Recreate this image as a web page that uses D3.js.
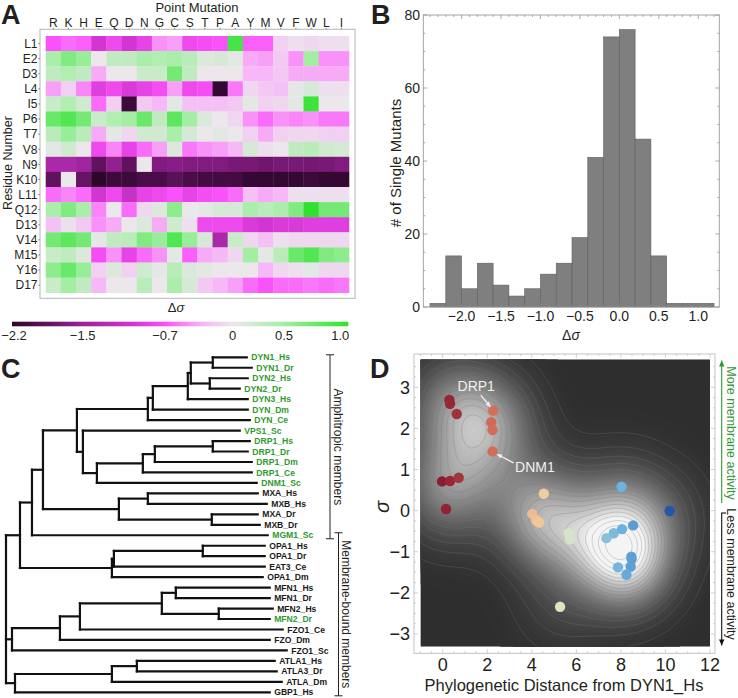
<!DOCTYPE html>
<html><head><meta charset="utf-8">
<script src="https://cdn.jsdelivr.net/npm/d3@7/dist/d3.min.js"></script>
<style>
html,body{margin:0;padding:0;background:#fff;}
svg{display:block;}
text{font-family:"Liberation Sans",Arial,sans-serif;fill:#231f20;}
</style></head><body>
<svg id="fig" width="738" height="698"></svg>
<script>
// ---------------- DATA ----------------
const mutations = ["R","K","H","E","Q","D","N","G","C","S","T","P","A","Y","M","V","F","W","L","I"];
const residues = ["L1","E2","D3","L4","I5","P6","T7","V8","N9","K10","L11","Q12","D13","V14","M15","Y16","D17"];
const dSigma = [
 [-0.7,-0.6,-0.65,-1.0,-0.8,-1.0,-0.85,-0.45,-0.4,-0.8,-0.75,-0.7,0.9,-0.65,-0.65,-0.15,-0.05,-0.1,-0.05,-0.05],
 [0.45,0.65,0.55,0.0,0.3,0.3,0.45,0.4,0.45,0.35,0.1,0.15,0.05,-0.35,-0.4,-0.2,-0.45,0.5,-0.45,-0.45],
 [0.3,0.4,0.3,-0.35,0.0,0.0,0.25,0.25,0.7,0.3,0.0,0.0,0.0,-0.3,-0.3,-0.2,-0.35,-0.35,-0.35,-0.35],
 [-0.4,-0.15,-0.5,-0.9,-0.8,-0.95,-0.85,-0.75,-0.4,-0.8,-0.75,-2.15,-0.55,-0.1,-0.2,-0.25,0.05,0.15,-0.05,-0.05],
 [0.25,0.4,0.2,-0.6,-0.15,-2.1,-0.2,-0.3,0.05,-0.25,-0.25,-0.25,-0.2,0.05,-0.15,-0.1,0.05,0.95,0.0,0.0],
 [0.75,0.85,0.7,0.25,0.4,0.5,0.75,0.3,0.8,0.5,0.1,0.0,-0.1,-0.45,-0.6,-0.45,-0.5,-0.45,-0.55,-0.55],
 [0.35,0.55,0.35,-0.35,0.05,-0.1,0.2,0.2,0.45,0.15,0.0,0.05,0.0,-0.15,-0.35,-0.15,-0.1,-0.1,-0.15,-0.15],
 [0.05,0.2,0.0,-0.8,-0.5,-0.85,-0.6,-0.4,0.1,-0.55,-0.45,-0.4,-0.3,0.15,-0.05,0.0,0.3,0.35,0.2,0.15],
 [-1.35,-1.35,-1.45,-1.85,-1.55,-1.85,0.0,-1.65,-1.6,-1.65,-1.65,-1.65,-1.7,-1.7,-1.75,-1.7,-1.7,-1.72,-1.7,-1.65],
 [-1.85,0.0,-1.8,-2.2,-2.1,-2.1,-2.0,-2.0,-1.9,-2.0,-2.05,-2.05,-2.05,-2.15,-2.15,-2.15,-2.15,-2.1,-2.15,-2.15],
 [-0.6,-0.5,-0.6,-1.0,-0.8,-1.1,-0.85,-0.8,-0.7,-0.85,-0.75,-0.7,-0.6,-0.25,-0.35,-0.3,-0.05,-0.05,-0.05,-0.05],
 [0.45,0.65,0.45,-0.5,0.0,-0.6,-0.1,0.1,0.6,0.0,0.05,0.15,0.15,0.45,0.35,0.45,0.65,1.0,0.7,0.7],
 [-0.25,-0.05,-0.2,-0.45,-0.35,0.0,0.1,-0.35,0.2,-0.05,-0.8,-0.8,-0.8,-0.95,-1.0,-0.95,-0.95,-0.9,-0.9,-0.9],
 [0.7,0.8,0.7,0.05,0.3,0.35,0.65,0.55,0.85,0.55,0.15,-1.35,0.25,-0.1,-0.25,-0.05,-0.1,-0.1,-0.1,-0.1],
 [0.25,0.3,0.1,-0.75,-0.45,-0.85,-0.6,-0.45,0.05,-0.65,-0.35,-0.3,-0.1,0.5,0.05,0.35,0.75,0.85,0.65,0.6],
 [0.6,0.75,0.55,-0.15,0.1,-0.15,0.2,0.05,0.35,0.1,0.05,0.0,0.0,0.0,-0.3,-0.1,-0.05,0.05,-0.1,-0.1],
 [0.25,0.5,0.3,-0.3,0.0,0.0,0.35,0.0,0.45,0.15,-0.2,-0.3,-0.4,-0.6,-0.7,-0.6,-0.6,-0.55,-0.6,-0.55]
];
const colorStops = [-2.2,-1.8,-1.5,-1.0,-0.7,-0.3,0,0.5,1.0];
const colorbarTicks = [-2.2,-1.5,-0.7,0,0.5,1.0];
const colorbarLabels = ["\u22122.2","\u22121.5","\u22120.7","0","0.5","1.0"];

const histBinStarts = [-2.4,-2.2,-2.0,-1.8,-1.6,-1.4,-1.2,-1.0,-0.8,-0.6,-0.4,-0.2,0.0,0.2,0.4,0.6,0.8,1.0];
const histCounts    = [1,14,5,12,6,3,5,9,12,19,41,74,76,46,14,1,1,1];
const histBinWidth = 0.2;
const histXTicks = [-2,-1.5,-1,-0.5,0,0.5,1];
const histYTicks = [0,20,40,60,80];

// phylogenetic tree: node = cumulative distance from root, leaves named
const L = (name, d) => ({name, d});
const N = (d, children) => ({d, children});
const phyloTree = N(0, [
  N(0.14, [
    N(0.26, [
      N(0.37, [
        N(0.71, [
          N(1.42, [
            N(1.47, [
              N(1.82, [
                N(1.85, [
                  N(2.07, [L("DYN1_Hs",2.41), L("DYN1_Dr",2.46)]),
                  N(2.04, [L("DYN2_Hs",2.42), L("DYN2_Dr",2.34)])
                ]),
                L("DYN3_Hs",2.42)
              ]),
              L("DYN_Dm",2.42)
            ]),
            L("DYN_Ce",2.44)
          ]),
          N(0.77, [
            L("VPS1_Sc",2.34),
            N(0.91, [
              N(1.37, [
                N(1.49, [
                  N(2.07, [L("DRP1_Hs",2.44), L("DRP1_Dr",2.42)]),
                  L("DRP1_Dm",2.46)
                ]),
                L("DRP1_Ce",2.46)
              ]),
              L("DNM1_Sc",2.51)
            ])
          ])
        ]),
        N(1.13, [
          N(1.42, [L("MXA_Hs",2.52), L("MXB_Hs",2.61)]),
          N(2.06, [L("MXA_Dr",2.52), L("MXB_Dr",2.54)])
        ])
      ]),
      L("MGM1_Sc",2.62)
    ]),
    N(1.06, [
      N(1.08, [
        N(1.97, [L("OPA1_Hs",2.59), L("OPA1_Dr",2.59)]),
        L("EAT3_Ce",2.59)
      ]),
      L("OPA1_Dm",2.57)
    ])
  ]),
  N(0.06, [
    N(0.54, [
      N(0.74, [
        N(1.56, [
          N(1.70, [L("MFN1_Hs",2.64), L("MFN1_Dr",2.64)]),
          N(2.13, [L("MFN2_Hs",2.67), L("MFN2_Dr",2.64)])
        ]),
        L("FZO1_Ce",2.77)
      ]),
      L("FZO_Dm",2.64)
    ]),
    L("FZO1_Sc",2.81)
  ]),
  N(0.09, [
    N(1.06, [
      N(1.31, [L("ATLA1_Hs",2.69), L("ATLA3_Dr",2.71)]),
      L("ATLA_Dm",2.76)
    ]),
    L("GBP1_Hs",2.64)
  ])
]);
const amphitropic = ["DYN1_Hs","DYN1_Dr","DYN2_Hs","DYN2_Dr","DYN3_Hs","DYN_Dm","DYN_Ce","VPS1_Sc","DRP1_Hs","DRP1_Dr","DRP1_Dm","DRP1_Ce","DNM1_Sc","MGM1_Sc","MFN2_Dr"];
const groupAmphi = ["DYN1_Hs","MGM1_Sc"];
const groupMembrane = ["MGM1_Sc","GBP1_Hs"];

const phyloDistance = [0.30,0.33,0.63,-0.03,0.33,0.72,0.15, 2.27,2.18,2.24,2.24, 4.54,4.02,4.21,4.33, 5.66,5.71,5.27, 8.03,7.35,7.68,8.05,8.55,8.47,8.48,7.87,8.44,8.25, 10.19];
const sigmaValues   = [2.69,2.60,2.35,0.71,0.72,0.80,0.04, 2.43,2.15,1.96,1.44, 0.41,-0.08,-0.24,-0.29, -0.55,-0.70,-2.34, 0.58,-0.67,-0.55,-0.45,-0.36,-1.12,-1.18,-1.38,-1.36,-1.56, -0.01];
const dXTicks = [0,2,4,6,8,10,12];
const dYTicks = [-3,-2,-1,0,1,2,3];

// ---------------- DRAW ----------------
const svg = d3.select("#fig");
const defs = svg.append("defs");
const MINUS = v => (v<0?"\u2212":"") + Math.abs(v);

function arrow(g, x1, y1, x2, y2, color, w, head){
  g.append("line").attr("x1",x1).attr("y1",y1).attr("x2",x2).attr("y2",y2)
   .attr("stroke",color).attr("stroke-width",w);
  const a = Math.atan2(y2-y1, x2-x1), h = head, s = head*0.45;
  const p = [[x2,y2],[x2-h*Math.cos(a)+s*Math.sin(a), y2-h*Math.sin(a)-s*Math.cos(a)],
             [x2-h*Math.cos(a)-s*Math.sin(a), y2-h*Math.sin(a)+s*Math.cos(a)]];
  g.append("path").attr("d","M"+p.join("L")+"Z").attr("fill",color);
}

// panel letters
[["A",1,24],["B",371,24],["C",1,378],["D",370,378]].forEach(([t,x,y])=>{
  svg.append("text").attr("x",x).attr("y",y).text(t)
    .style("font-size","27px").style("font-weight","bold");
});

// ===== Panel A =====
{
  const g = svg.append("g");
  const x = d3.scaleBand(mutations, [45.7, 349]);
  const y = d3.scaleBand(residues, [36, 292.7]);
  const color = d3.scaleLinear(colorStops,
      ["#2e062c","#681466","#9a2298","#d236d2","#fa52fa","#f7b8f7","#ebe7eb","#a4eea4","#2fe22f"])
      .interpolate(d3.interpolateRgb).clamp(true);
  g.append("rect").attr("x",40).attr("y",29.3).attr("width",315).attr("height",269)
    .attr("fill","#fff").attr("stroke","#b4b4b4").attr("stroke-width",1);
  residues.forEach((r,i)=>{
    g.selectAll(null).data(dSigma[i]).join("rect")
      .attr("x",(d,j)=>x(mutations[j])).attr("y",y(r))
      .attr("width",x.bandwidth()+0.3).attr("height",y.bandwidth()+0.3)
      .attr("fill",d=>color(d));
  });
  g.selectAll(null).data(mutations).join("text")
    .attr("x",d=>x(d)+x.bandwidth()/2).attr("y",27)
    .attr("text-anchor","middle").style("font-size","12px").text(d=>d);
  g.selectAll(null).data(mutations).join("line")
    .attr("x1",d=>x(d)+x.bandwidth()/2).attr("x2",d=>x(d)+x.bandwidth()/2)
    .attr("y1",27.8).attr("y2",29.3).attr("stroke","#888");
  g.selectAll(null).data(residues).join("text")
    .attr("x",37.5).attr("y",d=>y(d)+y.bandwidth()/2).attr("dy","0.36em")
    .attr("text-anchor","end").style("font-size","12px").text(d=>d);
  g.selectAll(null).data(residues).join("line")
    .attr("x1",38.3).attr("x2",40).attr("y1",d=>y(d)+y.bandwidth()/2).attr("y2",d=>y(d)+y.bandwidth()/2)
    .attr("stroke","#888");
  g.append("text").attr("x",197).attr("y",12).attr("text-anchor","middle")
    .style("font-size","13px").text("Point Mutation");
  g.append("text").attr("transform","translate(11.5,163) rotate(-90)").attr("text-anchor","middle")
    .style("font-size","12.5px").text("Residue Number");
  const ds = g.append("text").attr("x",176).attr("y",312).attr("text-anchor","middle").style("font-size","13px");
  ds.append("tspan").text("\u0394");
  ds.append("tspan").style("font-style","italic").text("\u03c3");
  // colorbar
  const cbx = d3.scaleLinear(colorbarTicks, [12, 82.7, 165, 232.7, 284, 348.3]);
  const grad = defs.append("linearGradient").attr("id","cbGrad").attr("x1","0").attr("x2","1").attr("y1","0").attr("y2","0");
  const x0 = cbx(colorbarTicks[0]), x1 = cbx(colorbarTicks[colorbarTicks.length-1]);
  d3.range(0,61).forEach(i=>{
    const v = colorbarTicks[0] + (colorbarTicks[colorbarTicks.length-1]-colorbarTicks[0])*i/60;
    grad.append("stop").attr("offset",(cbx(v)-x0)/(x1-x0)).attr("stop-color",color(v));
  });
  g.append("rect").attr("x",x0).attr("y",321.7).attr("width",x1-x0).attr("height",4.6).attr("fill","url(#cbGrad)");
  g.selectAll(null).data(colorbarTicks).join("text")
    .attr("x",(d,i)=> i===0 ? cbx(d)+2 : (i===colorbarTicks.length-1 ? cbx(d)-8 : cbx(d)))
    .attr("y",340).attr("text-anchor","middle").style("font-size","13px")
    .text((d,i)=>colorbarLabels[i]);
}

// ===== Panel B =====
{
  const g = svg.append("g");
  const x = d3.scaleLinear([-2.485, 1.267], [423.3, 719.3]);
  const y = d3.scaleLinear([0, 80], [307, 15]);
  g.selectAll(null).data(histCounts).join("rect")
    .attr("x",(d,i)=>x(histBinStarts[i])).attr("y",d=>y(d))
    .attr("width",(d,i)=>x(histBinStarts[i]+histBinWidth)-x(histBinStarts[i]))
    .attr("height",d=>y(0)-y(d))
    .attr("fill","#7f7f7f").attr("stroke","#5f5f5f").attr("stroke-width",0.6);
  g.append("rect").attr("x",423.3).attr("y",15).attr("width",296).attr("height",292)
    .attr("fill","none").attr("stroke","#9a9a9a").attr("stroke-width",0.9);
  const tk = g.append("g").attr("stroke","#8a8a8a").attr("stroke-width",0.7);
  d3.range(-2.4,1.21,0.1).forEach(v=>{
    const major = Math.abs(v*2-Math.round(v*2))<1e-6, L = major?4:2;
    tk.append("line").attr("x1",x(v)).attr("x2",x(v)).attr("y1",307).attr("y2",307-L);
    tk.append("line").attr("x1",x(v)).attr("x2",x(v)).attr("y1",15).attr("y2",15+L);
  });
  d3.range(0,81,5).forEach(v=>{
    const L = v%20===0?4:2;
    tk.append("line").attr("x1",423.3).attr("x2",423.3+L).attr("y1",y(v)).attr("y2",y(v));
    tk.append("line").attr("x1",719.3).attr("x2",719.3-L).attr("y1",y(v)).attr("y2",y(v));
  });
  g.selectAll(null).data(histXTicks).join("text")
    .attr("x",d=>x(d)).attr("y",320.5).attr("text-anchor","middle").style("font-size","14px")
    .text(d=>(d<0?"\u2212":"")+Math.abs(d).toFixed(1));
  g.selectAll(null).data(histYTicks).join("text")
    .attr("x",420).attr("y",d=>y(d)).attr("dy","0.36em").attr("text-anchor","end").style("font-size","14px")
    .text(d=>d);
  g.append("text").attr("transform","translate(401,163) rotate(-90)").attr("text-anchor","middle")
    .style("font-size","15px").text("# of Single Mutants");
  const ds = g.append("text").attr("x",571).attr("y",340).attr("text-anchor","middle").style("font-size","14px");
  ds.append("tspan").text("\u0394");
  ds.append("tspan").style("font-style","italic").text("\u03c3");
}

// ===== Panel C =====
{
  const g = svg.append("g");
  const root = d3.hierarchy(phyloTree, d=>d.children);
  const leaves = root.leaves();
  const yL = d3.scalePoint(leaves.map(d=>d.data.name), [357.3, 692.3]);
  const xT = d3.scaleLinear([0, 2.81], [6, 286.7]);
  root.eachAfter(n=>{
    n.y = n.children ? d3.mean(n.children, c=>c.y) : yL(n.data.name);
  });
  const lines = g.append("g").attr("stroke","#111").attr("stroke-width",2.2).attr("stroke-linecap","square");
  root.each(n=>{
    if(!n.children) return;
    const ys = n.children.map(c=>c.y);
    lines.append("line").attr("x1",xT(n.data.d)).attr("x2",xT(n.data.d))
      .attr("y1",d3.min(ys)).attr("y2",d3.max(ys));
    n.children.forEach(c=>{
      lines.append("line").attr("x1",xT(n.data.d)).attr("x2",xT(c.data.d)).attr("y1",c.y).attr("y2",c.y);
    });
  });
  g.selectAll(null).data(leaves).join("text")
    .attr("x",d=>xT(d.data.d)+4.5).attr("y",d=>d.y).attr("dy","0.36em")
    .style("font-size","8.6px").style("font-weight","bold")
    .style("fill",d=>amphitropic.includes(d.data.name)?"#2f9a2f":"#1a1a1a")
    .text(d=>d.data.name);
  const br = (names, bx, label, tx) => {
    const y1 = yL(names[0]) - 2.5, y2 = yL(names[1]) + 3.5;
    const b = g.append("g").attr("stroke","#222").attr("stroke-width",1);
    b.append("line").attr("x1",bx).attr("x2",bx).attr("y1",y1).attr("y2",y2);
    b.append("line").attr("x1",bx-4).attr("x2",bx+4).attr("y1",y1).attr("y2",y1);
    b.append("line").attr("x1",bx-4).attr("x2",bx+4).attr("y1",y2).attr("y2",y2);
    g.append("text").attr("transform",`translate(${tx},${(y1+y2)/2}) rotate(90)`)
      .attr("text-anchor","middle").style("font-size","12px").text(label);
  };
  br(groupAmphi, 330, "Amphitropic members", 334);
  br(groupMembrane, 338.5, "Membrane-bound members", 342);
}

// ===== Panel D =====
{
  const g = svg.append("g");
  const x = d3.scaleLinear([-1, 12], [420.4, 710]);
  const y = d3.scaleLinear([-3.31, 3.68], [646.7, 359.3]);
  const X0 = x.range()[0], Y0 = y.range()[1];
  const W = x.range()[1]-X0, H = y.range()[0]-Y0;
  defs.append("clipPath").attr("id","clipD").append("rect")
    .attr("x",X0).attr("y",Y0).attr("width",W).attr("height",H);
  const step = 2;
  const nx = Math.ceil(W/step), ny = Math.ceil(H/step);
  const hx = 1.45, hy = 0.85;
  const dens = new Float64Array(nx*ny);
  let mx = 0;
  for(let j=0;j<ny;j++){
    const yy = y.invert(Y0+(j+0.5)*step);
    for(let i=0;i<nx;i++){
      const xx = x.invert(X0+(i+0.5)*step);
      let s = 0;
      for(let k=0;k<phyloDistance.length;k++){
        const dx=(xx-phyloDistance[k])/hx, dy=(yy-sigmaValues[k])/hy;
        s += Math.exp(-0.5*(dx*dx+dy*dy));
      }
      dens[j*nx+i]=s; if(s>mx) mx=s;
    }
  }
  for(let i=0;i<dens.length;i++) dens[i]/=mx;
  const grey = t => d3.interpolateRgb("#2e2e2e","#f4f4f4")(Math.pow(Math.min(1,Math.max(0,t)/0.82),1.25));
  const gc = g.append("g").attr("clip-path","url(#clipD)");
  gc.append("rect").attr("x",X0).attr("y",Y0).attr("width",W).attr("height",H).attr("fill",grey(0));
  const path = d3.geoPath(d3.geoIdentity().scale(step).translate([X0,Y0]));
  const fills = d3.contours().size([nx,ny]).thresholds(d3.range(1,90).map(i=>i/90))(dens);
  gc.selectAll(null).data(fills).join("path").attr("d",path).attr("fill",d=>grey(d.value));
  const iso = d3.contours().size([nx,ny]).thresholds(d3.range(1,20).map(i=>i/20))(dens);
  gc.selectAll(null).data(iso).join("path").attr("d",path).attr("fill","none")
    .attr("stroke","#7a7a7a").attr("stroke-opacity",0.5).attr("stroke-width",0.6);
  g.append("rect").attr("x",414).attr("y",354).attr("width",301).attr("height",299.3)
    .attr("fill","none").attr("stroke","#c4c4c4").attr("stroke-width",1);
  const tk = g.append("g").attr("stroke","#bdbdbd").attr("stroke-width",0.7);
  d3.range(-1,12.01,0.5).forEach(v=>{
    const L = Math.abs(v%2)<1e-6?4:2;
    tk.append("line").attr("x1",x(v)).attr("x2",x(v)).attr("y1",653.3).attr("y2",653.3-L);
    tk.append("line").attr("x1",x(v)).attr("x2",x(v)).attr("y1",354).attr("y2",354+L);
  });
  d3.range(-3,3.51,0.25).forEach(v=>{
    const L = Math.abs(v-Math.round(v))<1e-6?4:2;
    tk.append("line").attr("x1",414).attr("x2",414+L).attr("y1",y(v)).attr("y2",y(v));
    tk.append("line").attr("x1",715).attr("x2",715-L).attr("y1",y(v)).attr("y2",y(v));
  });
  const pc = d3.scaleLinear([0,2.2,4.3,5.5,8.0,10.2],
      ["#8c1c30","#cf6c58","#f2c797","#dfe7c9","#6fb3df","#2557a6"]).interpolate(d3.interpolateRgb);
  g.selectAll(null).data(phyloDistance).join("circle")
    .attr("cx",d=>x(d)).attr("cy",(d,i)=>y(sigmaValues[i])).attr("r",5.2)
    .attr("fill",d=>pc(d));
  const pDRP = [x(phyloDistance[7]), y(sigmaValues[7])];
  const pDNM = [x(phyloDistance[10]), y(sigmaValues[10])];
  arrow(g, pDRP[0]-12.5, pDRP[1]-15.5, pDRP[0]-2.8, pDRP[1]-3.8, "#f2f2f2", 1.2, 5);
  g.append("text").attr("x",pDRP[0]-17).attr("y",pDRP[1]-19.5).attr("text-anchor","middle")
    .style("font-size","14px").style("fill","#f0f0f0").text("DRP1");
  arrow(g, pDNM[0]+21, pDNM[1]+11.5, pDNM[0]+4.5, pDNM[1]+2.8, "#f2f2f2", 1.2, 5);
  g.append("text").attr("x",pDNM[0]+22.5).attr("y",pDNM[1]+21).attr("text-anchor","start")
    .style("font-size","14px").style("fill","#f0f0f0").text("DNM1");
  g.selectAll(null).data(dXTicks).join("text")
    .attr("x",d=>x(d)).attr("y",671).attr("text-anchor","middle").style("font-size","18px").text(d=>d);
  g.selectAll(null).data(dYTicks).join("text")
    .attr("x",410).attr("y",d=>y(d)).attr("dy","0.36em").attr("text-anchor","end").style("font-size","18px")
    .text(d=>MINUS(d));
  g.append("text").attr("x",564).attr("y",691).attr("text-anchor","middle").style("font-size","16.5px")
    .text("Phylogenetic Distance from DYN1_Hs");
  g.append("text").attr("transform","translate(383,507) rotate(-90)").attr("text-anchor","middle")
    .attr("dy","0.3em").style("font-size","20px").style("font-style","italic").text("\u03c3");
  arrow(g, 721.7, 503, 721.7, 360.5, "#2e9a2e", 1.1, 6);
  g.append("text").attr("transform","translate(727,433) rotate(90)").attr("text-anchor","middle")
    .style("font-size","12.5px").style("fill","#2e9a2e").text("More membrane activity");
  arrow(g, 721.7, 513, 721.7, 645.5, "#111", 1.1, 6);
  g.append("line").attr("x1",721.2).attr("x2",726).attr("y1",513).attr("y2",513).attr("stroke","#111").attr("stroke-width",1.1);
  g.append("text").attr("transform","translate(727,574) rotate(90)").attr("text-anchor","middle")
    .style("font-size","12.5px").text("Less membrane activity");
}
</script></body></html>
